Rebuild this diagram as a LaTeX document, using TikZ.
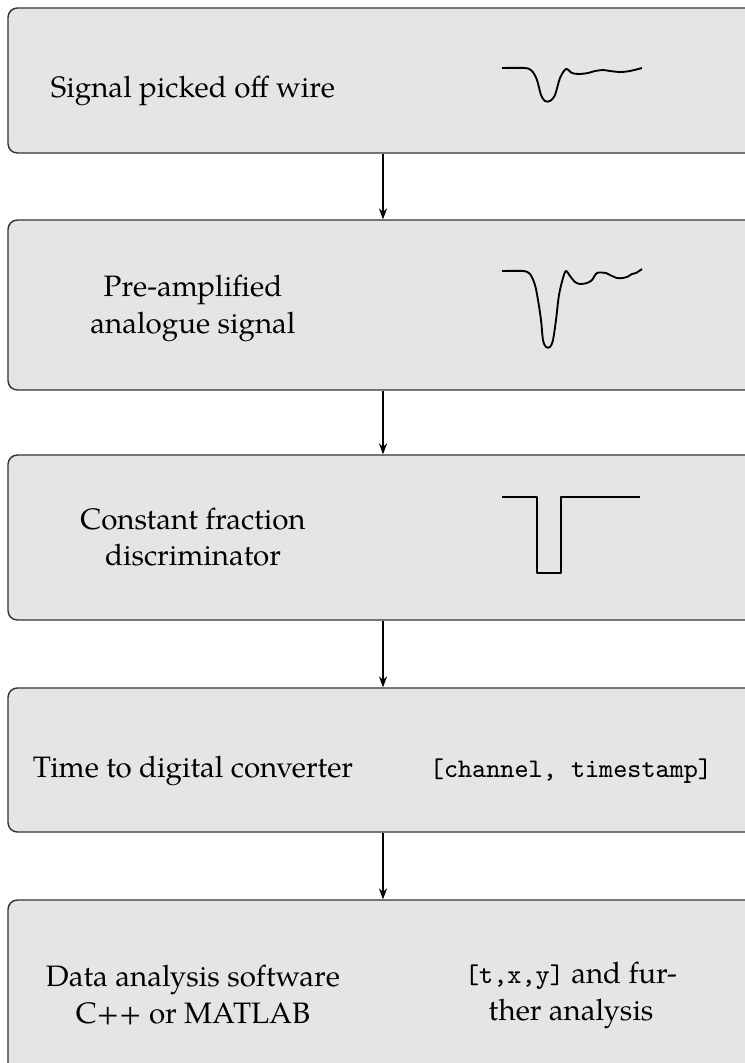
\documentclass[tikz,border=0pt]{standalone}
\usepackage{fontspec}
\setmainfont{TeX Gyre Pagella}
\usetikzlibrary{arrows.meta}
\definecolor{boxgray}{gray}{0.9}
\tikzset{
  stage/.style={draw=black!80, fill=boxgray, rounded corners=3pt, line width=0.45pt,
    minimum width=240pt, inner sep=0pt},
  label/.style={align=center, inner sep=0pt, font=\fontsize{9.45}{11.8}\selectfont},
  wave/.style={line width=0.6pt, line join=round},
}
\newcommand{\ttsmall}[1]{{\fontsize{8.6}{11.8}\selectfont\ttfamily #1}}
\begin{document}
\begin{tikzpicture}[>={Stealth[length=3.5pt,width=2.6pt]}, x=0.32pt, y=-0.32pt]
\useasboundingbox (0,0) rectangle (744,1063);

\node[stage, minimum height=46.4pt](b1) at (383,80.5){};
\node[stage, minimum height=54.4pt](b2) at (383,305){};
\node[stage, minimum height=52.8pt](b3) at (383,537.5){};
\node[stage, minimum height=46.1pt](b4) at (383,760){};
\node[stage, minimum height=57.6pt](b5) at (383,990){};

\node[label, anchor=base](t1) at (193,97){Signal picked off wire};
\node[label](t2) at (193,308){Pre-amplified\\analogue signal};
\node[label](t3) at (193,537){Constant fraction\\discriminator};
\node[label, anchor=base](t4) at (193,777){Time to digital converter};
\node[label, anchor=base](r4) at (571,777){\ttsmall{[channel, timestamp]}};
\node[label](t5) at (193,995){Data analysis software\\C++ or MATLAB};
\node[label](r5) at (571,995){\ttsmall{[t,x,y]} and fur-\\ther analysis};

% raw pulse from the wire
\draw[wave] plot[smooth, tension=0.5] coordinates {(502,68) (525,68) (532,71) (537,80)
  (541,95) (545,101) (550,101) (555,95) (560,78) (566,69) (572,73) (579,74) (588,73)
  (595,71) (603,70) (610,71) (620,72) (630,71) (642,68)};
% amplified pulse
\draw[wave] plot[smooth, tension=0.5] coordinates {(502,271) (523,271) (530,274) (535,285)
  (538,300) (541,320) (543,340) (546,347) (550,347) (553,340) (556,320) (559,295)
  (563,278) (566,271) (570,276) (575,282) (580,284) (587,283) (592,280) (597,273)
  (606,273) (610,275) (617,278) (623,278) (627,277) (632,274) (636,273) (642,269)};
% logic pulse
\draw[wave] (502,497) -- (537,497) -- (537,573) -- (561,573) -- (561,497) -- (640,497);

\draw[->, line width=0.4pt](b1)--(b2);
\draw[->, line width=0.4pt](b2)--(b3);
\draw[->, line width=0.4pt](b3)--(b4);
\draw[->, line width=0.4pt](b4)--(b5);
\end{tikzpicture}
\end{document}
